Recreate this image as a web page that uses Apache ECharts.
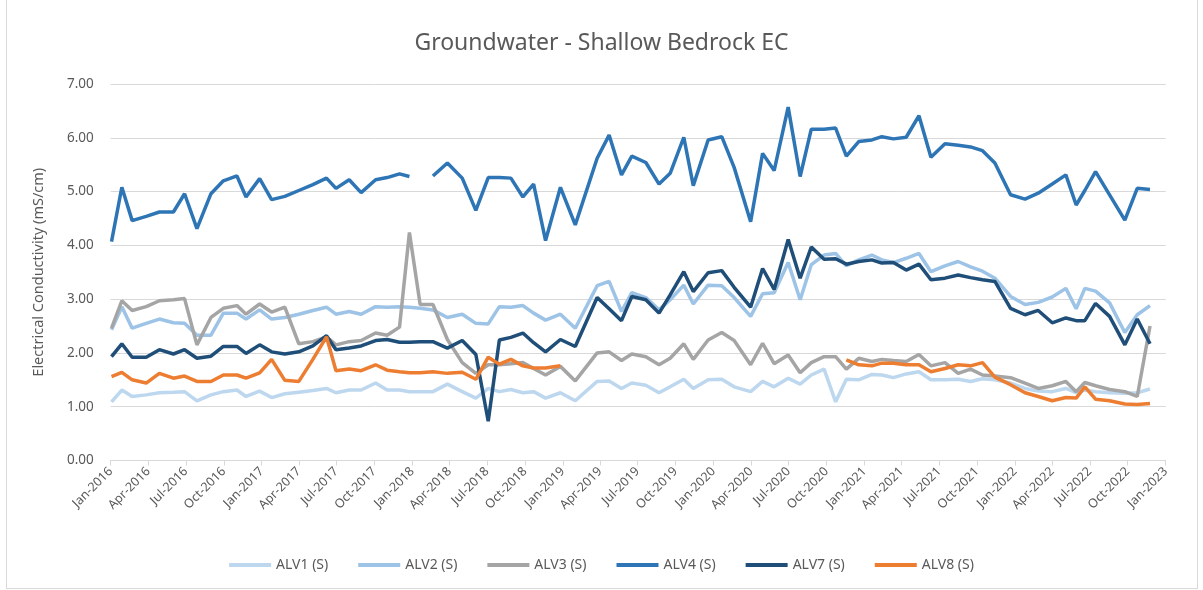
<!DOCTYPE html>
<html>
<head>
<meta charset="utf-8">
<script src="https://cdn.jsdelivr.net/npm/echarts@6.0.0/dist/echarts.min.js"></script>
<style>
  html, body { margin: 0; padding: 0; background: #fff; }
  #wrap { position: relative; width: 1203px; height: 590px; }
  #frame { position: absolute; left: 6px; top: -1px; width: 1190px; height: 588px; border: 1px solid #d9d9d9; }
  #main { position: absolute; left: 0; top: 0; width: 1203px; height: 590px; }
</style>
</head>
<body>
<div id="wrap">
  <div id="frame"></div>
  <div id="main"></div>
</div>
<script>
// sample dates
const sampleDates = [
  '2016-01-03','2016-01-28','2016-02-22','2016-03-27','2016-04-28','2016-06-01','2016-06-28','2016-07-28',
  '2016-08-31','2016-09-30','2016-11-02','2016-11-24','2016-12-27','2017-01-25','2017-02-26','2017-04-01',
  '2017-05-05','2017-06-07','2017-06-30','2017-08-01','2017-08-30','2017-10-04','2017-11-01','2017-12-01',
  '2017-12-25','2018-01-20','2018-02-20','2018-03-27','2018-05-02','2018-06-04','2018-07-04','2018-07-31',
  '2018-08-28','2018-09-26','2018-10-22','2018-11-20','2018-12-26','2019-01-31','2019-03-25','2019-04-23',
  '2019-05-23','2019-06-17','2019-07-21','2019-08-22','2019-09-18','2019-10-21','2019-11-13','2019-12-19',
  '2020-01-21','2020-02-20','2020-03-31','2020-04-29','2020-05-27','2020-06-30','2020-07-29','2020-08-25',
  '2020-09-25','2020-10-23','2020-11-18','2020-12-18','2021-01-19','2021-02-12','2021-03-12','2021-04-12',
  '2021-05-13','2021-06-11','2021-07-15','2021-08-16','2021-09-15','2021-10-14','2021-11-13','2021-12-21',
  '2022-01-25','2022-02-26','2022-04-01','2022-05-04','2022-05-29','2022-06-19','2022-07-15','2022-08-18',
  '2022-09-24','2022-10-24','2022-11-24'
]

const alv1 = [
  1.09,1.31,1.19,1.22,1.26,1.27,1.28,1.11,1.22,1.28,1.31,1.19,1.29,1.17,1.24,1.27,
  1.30,1.34,1.26,1.31,1.31,1.44,1.31,1.31,1.28,1.28,1.28,1.42,1.28,1.16,1.34,1.28,
  1.32,1.26,1.28,1.16,1.26,1.11,1.47,1.48,1.34,1.44,1.40,1.26,1.37,1.51,1.34,1.50,
  1.51,1.37,1.28,1.47,1.37,1.53,1.42,1.59,1.70,1.09,1.51,1.50,1.60,1.59,1.54,1.61,
  1.65,1.50,1.50,1.51,1.47,1.52,1.50,1.44,1.34,1.29,1.28,1.34,1.26,1.31,1.28,1.26,
  1.25,1.26,1.33
]

const alv2 = [
  2.43,2.86,2.46,2.55,2.63,2.56,2.55,2.33,2.33,2.74,2.74,2.63,2.80,2.63,2.66,2.72,
  2.79,2.85,2.72,2.77,2.72,2.86,2.85,2.86,2.85,2.83,2.80,2.66,2.72,2.55,2.54,2.86,
  2.85,2.88,2.74,2.61,2.72,2.46,3.25,3.33,2.77,3.12,3.03,2.80,2.99,3.26,2.91,3.26,
  3.25,3.03,2.68,3.10,3.12,3.68,2.99,3.64,3.82,3.85,3.62,3.73,3.82,3.73,3.68,3.76,
  3.85,3.51,3.62,3.70,3.60,3.52,3.39,3.05,2.90,2.94,3.04,3.20,2.82,3.20,3.15,2.93,
  2.38,2.71,2.88
]

const alv3 = [
  2.46,2.97,2.79,2.86,2.97,2.99,3.01,2.15,2.66,2.83,2.88,2.72,2.91,2.76,2.85,2.17,
  2.21,2.30,2.15,2.21,2.23,2.37,2.33,2.48,4.24,2.90,2.90,2.25,1.82,1.62,1.78,1.78,
  1.80,1.82,1.71,1.59,1.75,1.48,2.00,2.02,1.86,1.98,1.93,1.78,1.90,2.17,1.88,2.24,
  2.38,2.23,1.78,2.18,1.80,1.96,1.63,1.82,1.93,1.93,1.70,1.90,1.84,1.88,1.86,1.84,
  1.97,1.76,1.82,1.62,1.70,1.59,1.57,1.54,1.44,1.34,1.39,1.47,1.28,1.45,1.39,1.32,
  1.28,1.19,2.50
]

const alv4 = [
  4.07,5.08,4.46,4.54,4.62,4.62,4.96,4.31,4.96,5.20,5.29,4.90,5.24,4.85,4.91,5.02,
  5.13,5.25,5.06,5.22,4.98,5.22,5.26,5.33,5.28,null,5.29,5.53,5.25,4.65,5.26,5.26,
  5.25,4.90,5.14,4.09,5.08,4.38,5.62,6.05,5.31,5.66,5.54,5.14,5.34,6.01,5.11,5.96,
  6.02,5.45,4.44,5.71,5.39,6.57,5.28,6.16,6.16,6.18,5.66,5.93,5.96,6.02,5.98,6.01,
  6.41,5.64,5.89,5.86,5.83,5.76,5.53,4.94,4.86,4.97,5.14,5.31,4.75,5.02,5.37,4.94,
  4.47,5.06,5.04
]

const alv7 = [
  1.93,2.17,1.92,1.92,2.06,1.98,2.06,1.90,1.94,2.12,2.12,1.99,2.15,2.02,1.98,2.02,
  2.13,2.32,2.06,2.09,2.13,2.23,2.25,2.20,2.20,2.21,2.21,2.09,2.23,1.97,0.73,2.24,
  2.29,2.37,2.19,2.02,2.25,2.12,3.03,2.82,2.60,3.05,2.99,2.74,3.08,3.51,3.14,3.49,
  3.53,3.22,2.85,3.57,3.18,4.11,3.39,3.97,3.74,3.75,3.65,3.70,3.73,3.67,3.68,3.54,
  3.65,3.36,3.39,3.45,3.40,3.36,3.33,2.83,2.71,2.79,2.56,2.65,2.60,2.60,2.92,2.68,
  2.15,2.63,2.17
]

const alv8 = [
  1.56,1.64,1.50,1.44,1.62,1.53,1.57,1.47,1.47,1.59,1.59,1.53,1.63,1.88,1.49,1.47,
  1.88,2.30,1.67,1.70,1.67,1.78,1.68,1.65,1.63,1.63,1.65,1.62,1.64,1.51,1.92,1.79,
  1.88,1.76,1.72,1.72,1.76,null,null,null,null,null,null,null,null,null,null,null,
  null,null,null,null,null,null,null,null,null,null,1.87,1.78,1.76,1.81,1.81,1.78,
  1.78,1.65,1.71,1.78,1.76,1.82,1.55,1.41,1.26,1.19,1.11,1.17,1.16,1.37,1.14,1.11,
  1.05,1.04,1.06
]

const seriesNames = ['ALV1 (S)', 'ALV2 (S)', 'ALV3 (S)', 'ALV4 (S)', 'ALV7 (S)', 'ALV8 (S)']
const seriesValues = [alv1, alv2, alv3, alv4, alv7, alv8]
const seriesColors = ['#bdd7ee', '#9dc3e6', '#a5a5a5', '#2e75b6', '#1f4e79', '#ed7d31']

// quarterly tick labels on the date axis
const tickDates = [
  '2016-01-01','2016-04-01','2016-07-01','2016-10-01','2017-01-01','2017-04-01','2017-07-01','2017-10-01',
  '2018-01-01','2018-04-01','2018-07-01','2018-10-01','2019-01-01','2019-04-01','2019-07-01','2019-10-01',
  '2020-01-01','2020-04-01','2020-07-01','2020-10-01','2021-01-01','2021-04-01','2021-07-01','2021-10-01',
  '2022-01-01','2022-04-01','2022-07-01','2022-10-01','2023-01-01'
]
const monthNames = ['Jan','Feb','Mar','Apr','May','Jun','Jul','Aug','Sep','Oct','Nov','Dec']

// date string -> ms, used as the x value
function toTime (s) {
  const p = s.split('-')
  return new Date(+p[0], +p[1] - 1, +p[2]).getTime()
}

const ticks = tickDates.map(toTime)
const textColor = '#595959'
const font = 'Noto Sans'

var myChart = echarts.init(document.querySelector('#main'))

const option = {
  animation: false,
  title: {
    text: 'Groundwater - Shallow Bedrock EC',
    left: 'center',
    top: 27,
    textStyle: {
      fontFamily: font,
      fontSize: 23,
      fontWeight: 'normal',
      color: textColor
    }
  },
  legend: {
    data: seriesNames,
    bottom: 13,
    left: 'center',
    icon: 'rect',
    itemWidth: 42,
    itemHeight: 4,
    itemGap: 30,
    textStyle: {
      fontFamily: font,
      fontSize: 14,
      color: textColor
    }
  },
  grid: {
    left: 110.7,
    right: 37.3,
    top: 84,
    bottom: 129.5
  },
  xAxis: {
    type: 'value',
    min: ticks[0],
    max: ticks[ticks.length - 1],
    axisLine: {
      onZero: false,
      lineStyle: { color: '#d9d9d9', width: 1 }
    },
    axisTick: {
      show: true,
      length: 5,
      customValues: ticks,
      lineStyle: { color: '#d9d9d9' }
    },
    axisLabel: {
      customValues: ticks,
      rotate: 45,
      margin: 9,
      fontFamily: font,
      fontSize: 12.5,
      color: textColor,
      formatter: function (v) {
        const d = new Date(v)
        return monthNames[d.getMonth()] + '-' + d.getFullYear()
      }
    },
    splitLine: { show: false }
  },
  yAxis: {
    type: 'value',
    min: 0,
    max: 7,
    interval: 1,
    name: 'Electrical Conductivity (mS/cm)',
    nameLocation: 'middle',
    nameGap: 64,
    nameTextStyle: {
      fontFamily: font,
      fontSize: 14.5,
      color: textColor
    },
    axisLine: { show: false },
    axisTick: { show: false },
    axisLabel: {
      margin: 17,
      fontFamily: font,
      fontSize: 13.5,
      color: textColor,
      formatter: function (v) { return v.toFixed(2) }
    },
    splitLine: {
      lineStyle: { color: '#d9d9d9', width: 1 }
    }
  },
  series: seriesNames.map((name, i) => {
    return {
      name: name,
      type: 'line',
      symbol: 'none',
      connectNulls: false,
      color: seriesColors[i],
      lineStyle: { width: 3.5, color: seriesColors[i] },
      data: sampleDates.map((d, k) => [toTime(d), seriesValues[i][k] === null ? '-' : seriesValues[i][k]])
    }
  })
}

myChart.setOption(option)
</script>
</body>
</html>
